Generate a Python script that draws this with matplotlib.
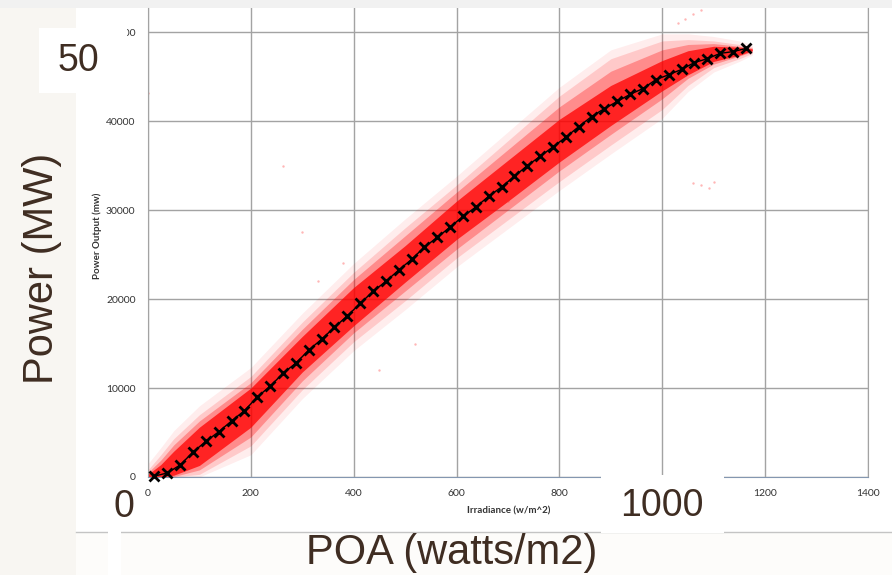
import matplotlib.pyplot as plt
from matplotlib.patches import Rectangle
from matplotlib.lines import Line2D

# binned averages (black x markers)
bin_x = [12.5, 37.5, 62.5, 87.5, 112.5, 137.5, 162.5, 187.5, 212.5, 237.5,
         262.5, 287.5, 312.5, 337.5, 362.5, 387.5, 412.5, 437.5, 462.5, 487.5,
         512.5, 537.5, 562.5, 587.5, 612.5, 637.5, 662.5, 687.5, 712.5, 737.5,
         762.5, 787.5, 812.5, 837.5, 862.5, 887.5, 912.5, 937.5, 962.5, 987.5,
         1012.5, 1037.5, 1062.5, 1087.5, 1112.5, 1137.5, 1162.5]
bin_power = [100, 450, 1350, 2800, 4000, 5080, 6300, 7450, 9000, 10200,
             11650, 12800, 14250, 15480, 16820, 18100, 19500, 20850, 21980, 23250,
             24450, 25840, 26920, 28090, 29280, 30340, 31540, 32590, 33790, 34990,
             36030, 37100, 38180, 39370, 40500, 41400, 42200, 43000, 43650, 44650,
             45200, 45800, 46570, 47000, 47600, 47800, 48150]

# envelopes of the red scatter cloud
env_x = [0, 25, 50, 100, 200, 300, 400, 500, 600, 700, 800, 900, 1000, 1050, 1100, 1150, 1175]
haze_hi = [1500, 3300, 5200, 8000, 12300, 18400, 24000, 29000, 33800, 38800, 43800, 48000, 49800, 49800, 49500, 49000, 48600]
haze_lo = [0, 0, 0, 0, 2500, 8800, 14200, 18800, 23600, 27900, 32200, 36300, 40300, 43300, 45500, 46700, 47400]
outer_hi = [800, 2500, 4300, 7000, 11300, 17400, 23000, 28000, 32800, 37800, 42800, 47000, 49000, 49150, 49000, 48600, 48300]
outer_lo = [0, 0, 0, 300, 3500, 9800, 15200, 19800, 24600, 28900, 33200, 37300, 41300, 44000, 46000, 47000, 47600]
mid_hi = [500, 1900, 3600, 6300, 10600, 16600, 22200, 27100, 32000, 36800, 41600, 45600, 48000, 48600, 48700, 48400, 48200]
mid_lo = [0, 0, 50, 800, 4500, 10800, 16200, 20900, 25600, 30000, 34400, 38500, 42500, 44800, 46400, 47300, 47800]
core_hi = [300, 1400, 2900, 5600, 10000, 15800, 21300, 26000, 31000, 35600, 40200, 44000, 46800, 47900, 48400, 48300, 48100]
core_lo = [0, 0, 200, 1300, 5600, 11800, 17000, 21900, 26700, 31000, 35400, 39500, 43400, 45200, 46700, 47400, 47900]

# faint stray points
stray_x = [0, 262, 300, 330, 380, 1030, 1045, 1060, 1075, 1060, 1075, 1090, 1100, 700, 450, 520]
stray_y = [43200, 35000, 27500, 22000, 24000, 51000, 51500, 52000, 52500, 33000, 32800, 32500, 33100, 31000, 12000, 15000]

x_ticks = [0, 200, 400, 600, 800, 1000, 1200, 1400]
x_tick_labels = ['0', '200', '400', '600', '800', '', '1200', '1400']
y_ticks = [0, 10000, 20000, 30000, 40000, 50000]

W, H = 892, 575
brown = '#3f2d22'

fig = plt.figure(figsize=(W / 100, H / 100), dpi=100)
fig.patch.set_facecolor('#f8f6f2')


def box(x0, y0, x1, y1, color, z):
    fig.add_artist(Rectangle((x0 / W, 1 - y1 / H), (x1 - x0) / W, (y1 - y0) / H,
                             transform=fig.transFigure, facecolor=color,
                             edgecolor='none', zorder=z))


# slide backdrop
box(0, 0, W, 8, '#f1f1f1', -5)
box(76, 8, W, 532, 'white', -5)
box(76, 532, W, H, '#fdfcfa', -5)
fig.add_artist(Line2D([76 / W, 1], [1 - 532 / H] * 2, color='#c4c4c4', lw=1,
                      transform=fig.transFigure, zorder=-4))

ax = fig.add_axes([148 / W, 98 / H, 720 / W, 469 / H])
ax.fill_between(env_x, haze_lo, haze_hi, color='#ff0000', alpha=0.07, lw=0)
ax.fill_between(env_x, outer_lo, outer_hi, color='#ff0000', alpha=0.15, lw=0)
ax.fill_between(env_x, mid_lo, mid_hi, color='#ff0000', alpha=0.3, lw=0)
ax.fill_between(env_x, core_lo, core_hi, color='#ff0000', alpha=0.75, lw=0)
ax.scatter(stray_x, stray_y, s=3, color='#ff3030', alpha=0.35, lw=0)
ax.plot(bin_x, bin_power, color='black', lw=1, marker='x', ms=7, mew=2, clip_on=False, zorder=5)

ax.set_xlim(0, 1400)
ax.set_ylim(0, 52700)
ax.set_xticks(x_ticks, x_tick_labels)
ax.set_yticks(y_ticks)
ax.grid(color='#a3a3a3', lw=1)
ax.set_axisbelow(True)
ax.tick_params(length=0, labelsize=7.5, labelcolor='#333333', pad=9)
for lab in ax.get_xticklabels() + ax.get_yticklabels():
    lab.set_family('Lato')
ax.spines['top'].set_visible(False)
ax.spines['right'].set_color('#a3a3a3')
ax.spines['left'].set_color('#a3a3a3')
ax.spines['bottom'].set_color('#8497b0')

fig.text(97 / W, 1 - 236 / H, 'Power Output (mw)', rotation=90, fontsize=7,
         fontweight='bold', family='Lato', color='#333333', ha='center', va='center')
fig.text(509 / W, 1 - 511 / H, 'Irradiance (w/m^2)', fontsize=7,
         fontweight='bold', family='Lato', color='#333333', ha='center', va='center')

# overlay labels of the slide
box(39, 28, 127, 93, 'white', 5)
box(108, 486, 121, 575, 'white', 5)
box(601, 475, 724, 533, 'white', 5)
big = dict(family='Liberation Sans', color=brown, ha='center', va='center', zorder=6)
fig.text(78 / W, 1 - 61 / H, '50', fontsize=27, **big)
fig.text(124 / W, 1 - 507 / H, '0', fontsize=27, **big)
fig.text(662 / W, 1 - 506 / H, '1000', fontsize=27, **big)
fig.text(452 / W, 1 - 553 / H, 'POA (watts/m2)', fontsize=30, **big)
fig.text(42 / W, 1 - 268 / H, 'Power (MW)', fontsize=30, rotation=90, **big)

fig.savefig('out.png', dpi=100)
